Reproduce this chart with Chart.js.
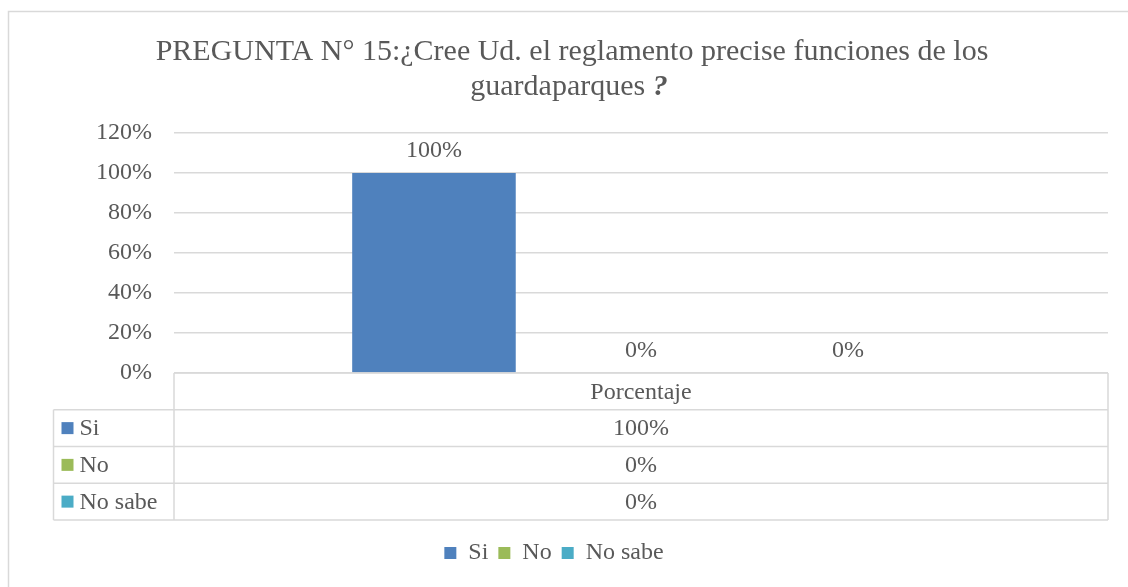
<!DOCTYPE html>
<html>
<head>
<meta charset="utf-8">
<script src="https://cdn.jsdelivr.net/npm/chart.js@4.4.0/dist/chart.umd.min.js"></script>
<style>
  html, body { margin: 0; padding: 0; background: #fff; overflow: hidden; }
  #wrap { width: 1128px; height: 587px; position: relative; }
</style>
</head>
<body>
<div id="wrap"><canvas id="mycanvas"></canvas></div>
<script>
// data
var categories = ["Porcentaje"];
var seriesNames = ["Si", "No", "No sabe"];
var siValues = [100];
var noValues = [0];
var noSabeValues = [0];
var tickLabels = ["0%", "20%", "40%", "60%", "80%", "100%", "120%"];
var titleLines = ["PREGUNTA N° 15:¿Cree Ud. el reglamento precise funciones de los", "guardaparques ?"];

var colors = ["#4F81BD", "#9BBB59", "#4BACC6"];
var textColor = "#595959";
var lineColor = "#d9d9d9";
var fontFam = "'Liberation Serif', 'DejaVu Serif', serif";
var fontSize = 24;

function pct(v) { return v + "%"; }

var allValues = [siValues, noValues, noSabeValues];

// frame + title
var framePlugin = {
  id: "frame",
  beforeDraw: function(chart) {
    var ctx = chart.ctx;
    ctx.save();
    ctx.fillStyle = "#fff";
    ctx.fillRect(0, 0, chart.width, chart.height);
    ctx.strokeStyle = lineColor;
    ctx.lineWidth = 1.5;
    ctx.beginPath();
    ctx.moveTo(8.5, chart.height + 5);
    ctx.lineTo(8.5, 11.5);
    ctx.lineTo(chart.width + 5, 11.5);
    ctx.stroke();

    ctx.fillStyle = textColor;
    ctx.font = "30px " + fontFam;
    ctx.textAlign = "center";
    ctx.textBaseline = "alphabetic";
    ctx.fillText(titleLines[0], 572, 60);
    // last "?" is bold italic in the original
    var l2 = titleLines[1].slice(0, -1);
    var w1 = ctx.measureText(l2).width;
    ctx.font = "bold italic 30px " + fontFam;
    var w2 = ctx.measureText("?").width;
    var x0 = 569 - (w1 + w2) / 2;
    ctx.textAlign = "left";
    ctx.fillText("?", x0 + w1, 95);
    ctx.font = "30px " + fontFam;
    ctx.fillText(l2, x0, 95);
    ctx.restore();
  }
};

// labels above bars
var labelPlugin = {
  id: "barLabels",
  afterDatasetsDraw: function(chart) {
    var ctx = chart.ctx;
    ctx.save();
    ctx.fillStyle = textColor;
    ctx.font = fontSize + "px " + fontFam;
    ctx.textAlign = "center";
    ctx.textBaseline = "middle";
    chart.data.datasets.forEach(function(ds, i) {
      var meta = chart.getDatasetMeta(i);
      meta.data.forEach(function(bar, j) {
        ctx.fillText(pct(ds.data[j]), bar.x, bar.y - 22);
      });
    });
    ctx.restore();
  }
};

// data table under the plot
var tablePlugin = {
  id: "dataTable",
  afterDraw: function(chart) {
    var ctx = chart.ctx;
    var area = chart.chartArea;
    var xs = chart.scales.x;
    var top = area.bottom;
    var rowH = 36.75;
    var left = 53.5;
    var mid = area.left;
    var right = area.right;
    ctx.save();
    ctx.strokeStyle = lineColor;
    ctx.lineWidth = 1.5;
    ctx.beginPath();
    ctx.moveTo(mid, top); ctx.lineTo(right, top);
    ctx.moveTo(mid, top); ctx.lineTo(mid, top + rowH * 4);
    ctx.moveTo(right, top); ctx.lineTo(right, top + rowH * 4);
    ctx.moveTo(left, top + rowH); ctx.lineTo(left, top + rowH * 4);
    for (var r = 1; r <= 4; r++) {
      ctx.moveTo(left, top + rowH * r); ctx.lineTo(right, top + rowH * r);
    }
    ctx.stroke();

    ctx.fillStyle = textColor;
    ctx.font = fontSize + "px " + fontFam;
    ctx.textBaseline = "middle";
    ctx.textAlign = "center";
    categories.forEach(function(c, j) {
      var cx = xs.getPixelForValue(j);
      ctx.fillText(c, cx, top + rowH / 2 + 1);
      allValues.forEach(function(vals, i) {
        ctx.fillText(pct(vals[j]), cx, top + rowH * (i + 1.5) + 1);
      });
    });
    ctx.textAlign = "left";
    seriesNames.forEach(function(n, i) {
      var cy = top + rowH * (i + 1.5);
      ctx.fillStyle = colors[i];
      ctx.fillRect(left + 8, cy - 6, 12, 12);
      ctx.fillStyle = textColor;
      ctx.fillText(n, left + 26, cy + 1);
    });
    ctx.restore();
  }
};

var datasets = seriesNames.map(function(n, i) {
  return {
    label: n,
    data: allValues[i],
    backgroundColor: colors[i],
    borderWidth: 0,
    categoryPercentage: 0.665,
    barPercentage: 0.79
  };
});

var ctx = document.getElementById("mycanvas");
var chart = new Chart(ctx, {
  type: "bar",
  data: { labels: categories, datasets: datasets },
  plugins: [framePlugin, labelPlugin, tablePlugin],
  options: {
    responsive: true,
    maintainAspectRatio: false,
    animation: false,
    layout: { padding: { top: 133, right: 20, bottom: 12, left: 0 } },
    plugins: {
      title: { display: false },
      tooltip: { enabled: false },
      legend: {
        position: "bottom",
        labels: {
          color: textColor,
          font: { family: fontFam, size: fontSize },
          boxWidth: 12,
          boxHeight: 12,
          padding: 10
        }
      }
    },
    scales: {
      x: {
        grid: { display: false },
        border: { display: false },
        ticks: { display: false },
        afterFit: function(scale) { scale.height = 158; }
      },
      y: {
        min: 0,
        max: 120,
        grid: { color: lineColor, lineWidth: 1.5, drawTicks: false },
        border: { display: false },
        ticks: {
          stepSize: 20,
          padding: 22,
          color: textColor,
          font: { family: fontFam, size: fontSize },
          callback: function(v) { return tickLabels[v / 20]; }
        },
        afterFit: function(scale) { scale.width = 174; }
      }
    }
  }
});
</script>
</body>
</html>
